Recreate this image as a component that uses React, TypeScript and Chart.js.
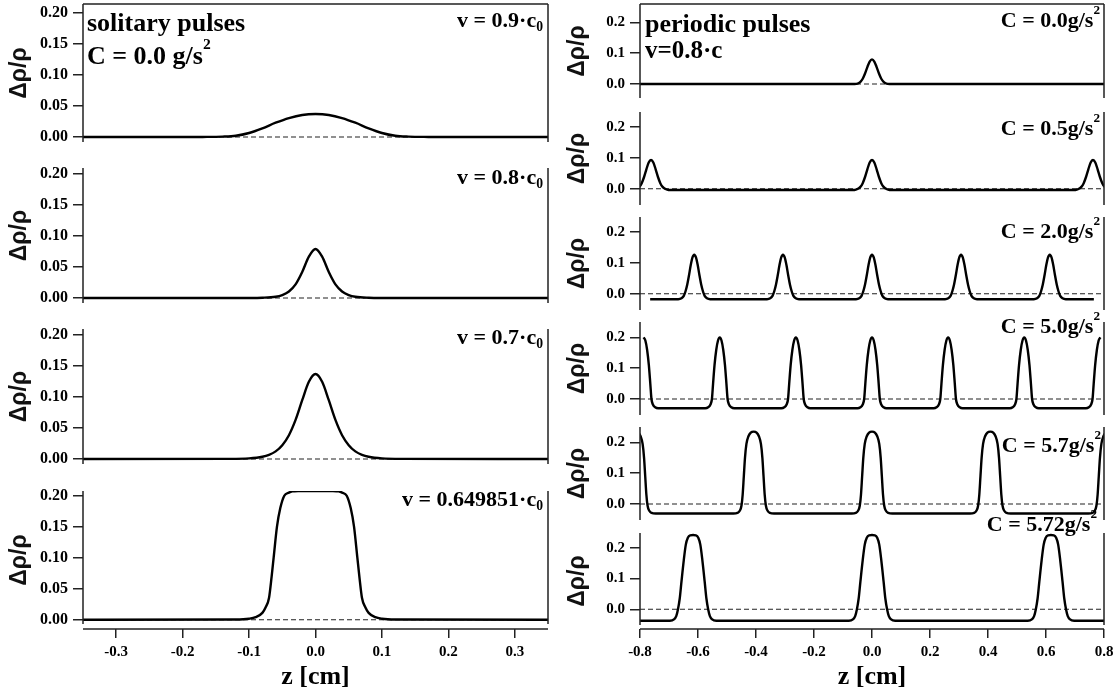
import React, { useEffect, useRef } from 'react';
import { Chart, registerables } from 'chart.js';

Chart.register(...registerables);

// ---------------- data ----------------
// solitary pulses, C = 0
const solZ09 = [-0.35, -0.2, -0.17, -0.14, -0.12, -0.1, -0.08, -0.06, -0.04, -0.02, 0, 0.02, 0.04, 0.06, 0.08, 0.1, 0.12, 0.14, 0.17, 0.2, 0.35];
const solR09 = [0, 0, 0.0001, 0.0006, 0.002, 0.0065, 0.014, 0.023, 0.0305, 0.0355, 0.037, 0.0355, 0.0305, 0.023, 0.014, 0.0065, 0.002, 0.0006, 0.0001, 0, 0];

const solZ08 = [-0.35, -0.1, -0.08, -0.06, -0.05, -0.04, -0.03, -0.02, -0.01, 0, 0.01, 0.02, 0.03, 0.04, 0.05, 0.06, 0.08, 0.1, 0.35];
const solR08 = [0, 0.0001, 0.0004, 0.002, 0.0048, 0.0105, 0.022, 0.042, 0.0667, 0.079, 0.0667, 0.042, 0.022, 0.0105, 0.0048, 0.002, 0.0004, 0.0001, 0];

const solZ07 = [-0.35, -0.13, -0.1, -0.08, -0.07, -0.06, -0.05, -0.04, -0.03, -0.02, -0.01, 0, 0.01, 0.02, 0.03, 0.04, 0.05, 0.06, 0.07, 0.08, 0.1, 0.13, 0.35];
const solR07 = [0, 0.0002, 0.001, 0.0036, 0.0067, 0.0123, 0.0223, 0.0384, 0.063, 0.0948, 0.1245, 0.137, 0.1245, 0.0948, 0.063, 0.0384, 0.0223, 0.0123, 0.0067, 0.0036, 0.001, 0.0002, 0];

const solZ065 = [-0.35, -0.12, -0.1, -0.09, -0.08, -0.075, -0.07, -0.066, -0.063, -0.058, -0.053, -0.047, -0.04, -0.035, -0.02, 0, 0.02, 0.035, 0.04, 0.047, 0.053, 0.058, 0.063, 0.066, 0.07, 0.075, 0.08, 0.09, 0.1, 0.12, 0.35];
const solR065 = [0, 0.0003, 0.0015, 0.004, 0.011, 0.02, 0.035, 0.07, 0.1, 0.15, 0.18, 0.2, 0.205, 0.207, 0.208, 0.208, 0.208, 0.207, 0.205, 0.2, 0.18, 0.15, 0.1, 0.07, 0.035, 0.02, 0.011, 0.004, 0.0015, 0.0003, 0];

// periodic pulses, v = 0.8 c : pulse centres, one-sided pulse profile (offset from centre, value)
const perC00Centers = [0];
const perC00Off = [0, 0.008, 0.016, 0.024, 0.032, 0.04, 0.05, 0.06];
const perC00Val = [0.08, 0.073, 0.055, 0.034, 0.017, 0.007, 0.001, 0];

const perC05Centers = [-0.762, 0, 0.762];
const perC05Off = [0, 0.008, 0.016, 0.024, 0.032, 0.04, 0.05, 0.06];
const perC05Val = [0.093, 0.085, 0.063, 0.038, 0.018, 0.006, -0.001, -0.004];

const perC20Centers = [-0.613, -0.307, 0, 0.307, 0.613];
const perC20Off = [0, 0.006, 0.012, 0.018, 0.024, 0.03, 0.036, 0.044, 0.055];
const perC20Val = [0.127, 0.118, 0.093, 0.06, 0.03, 0.008, -0.007, -0.015, -0.018];

const perC50Centers = [-0.7875, -0.525, -0.2625, 0, 0.2625, 0.525, 0.7875];
const perC50Off = [0, 0.006, 0.012, 0.018, 0.023, 0.027, 0.032, 0.04, 0.05];
const perC50Val = [0.2, 0.19, 0.16, 0.11, 0.05, 0, -0.018, -0.027, -0.03];

const perC57Centers = [-0.816, -0.408, 0, 0.408, 0.816];
const perC57Off = [0, 0.01, 0.018, 0.025, 0.03, 0.034, 0.038, 0.042, 0.048, 0.056, 0.07];
const perC57Val = [0.235, 0.232, 0.22, 0.195, 0.15, 0.09, 0.03, -0.005, -0.022, -0.029, -0.031];

const perC572Centers = [-0.617, 0, 0.617];
const perC572Off = [0, 0.01, 0.018, 0.025, 0.032, 0.04, 0.046, 0.052, 0.058, 0.066, 0.08];
const perC572Val = [0.241, 0.24, 0.232, 0.21, 0.16, 0.09, 0.035, 0, -0.022, -0.033, -0.037];

// curve extents [start, end, value at the ends or null]
const perC00Range = [-0.8, 0.8, 0];
const perC05Range = [-0.9, 0.9, null];
const perC20Range = [-0.765, 0.765, -0.018];
const perC50Range = [-0.7875, 0.7875, null];
const perC57Range = [-0.9, 0.9, null];
const perC572Range = [-0.8, 0.8, -0.037];

// ticks
const leftYTicks = [0, 0.05, 0.1, 0.15, 0.2];
const rightYTicks = [0, 0.1, 0.2];
const leftXTicks = [-0.3, -0.2, -0.1, 0, 0.1, 0.2, 0.3];
const rightXTicks = [-0.8, -0.6, -0.4, -0.2, 0, 0.2, 0.4, 0.6, 0.8];

// ---------------- helpers ----------------
type Pt = { x: number; y: number };
const zip = (xs: number[], ys: number[]): Pt[] => xs.map((x, i) => ({ x, y: ys[i] }));

function pulseTrain(centers: number[], off: number[], val: number[], range: (number | null)[]): Pt[] {
  const lo = range[0] as number;
  const hi = range[1] as number;
  const edge = range[2];
  const pts: Pt[] = [];
  if (edge !== null) pts.push({ x: lo, y: edge as number });
  for (const c of centers) {
    for (let i = off.length - 1; i > 0; i--) pts.push({ x: c - off[i], y: val[i] });
    for (let i = 0; i < off.length; i++) pts.push({ x: c + off[i], y: val[i] });
  }
  if (edge !== null) pts.push({ x: hi, y: edge as number });
  return pts.filter((p) => p.x >= lo - 1e-9 && p.x <= hi + 1e-9);
}

const framePlugin = {
  id: 'frame',
  afterDraw(chart: any, _a: any, opts: any) {
    const { ctx, chartArea: a } = chart;
    const yb = typeof opts.lineEnd === 'number' ? chart.scales.y.getPixelForValue(opts.lineEnd) : a.bottom;
    ctx.save();
    ctx.strokeStyle = '#222';
    ctx.lineWidth = 1.5;
    ctx.beginPath();
    ctx.moveTo(a.left, a.top);
    ctx.lineTo(a.left, yb);
    ctx.moveTo(a.right, a.top);
    ctx.lineTo(a.right, yb);
    if (opts.top) {
      ctx.moveTo(a.left, a.top);
      ctx.lineTo(a.right, a.top);
    }
    if (opts.xAxis) {
      ctx.moveTo(a.left, a.bottom);
      ctx.lineTo(a.right, a.bottom);
    }
    ctx.stroke();
    ctx.restore();
  },
};

const W = 1118;
const H = 693;
const PAD = 12;

const COLS = {
  L: { left: 0, width: 558, yW: 83, padR: 10, ppu: 620, xMin: -0.35, xMax: 0.35, yTicks: leftYTicks, yDec: 2, yFont: 16, xTicks: leftXTicks },
  R: { left: 558, width: 560, yW: 82, padR: 14, ppu: 308, xMin: -0.8, xMax: 0.8, yTicks: rightYTicks, yDec: 1, yFont: 15, xTicks: rightXTicks },
};

type PanelDef = { col: 'L' | 'R'; top: number; zero: number; bottom: number; axisEnd?: number; frameTop?: boolean; xAxis?: boolean; data: Pt[] };

const PANELS: PanelDef[] = [
  { col: 'L', top: 4, zero: 137, bottom: 142, frameTop: true, data: zip(solZ09, solR09) },
  { col: 'L', top: 168, zero: 298, bottom: 303, data: zip(solZ08, solR08) },
  { col: 'L', top: 329, zero: 459, bottom: 464, data: zip(solZ07, solR07) },
  { col: 'L', top: 491, zero: 619.7, bottom: 629, axisEnd: 624, xAxis: true, data: zip(solZ065, solR065) },
  { col: 'R', top: 4, zero: 84, bottom: 98, frameTop: true, data: pulseTrain(perC00Centers, perC00Off, perC00Val, perC00Range) },
  { col: 'R', top: 112, zero: 188.7, bottom: 205, data: pulseTrain(perC05Centers, perC05Off, perC05Val, perC05Range) },
  { col: 'R', top: 217, zero: 293.7, bottom: 310, data: pulseTrain(perC20Centers, perC20Off, perC20Val, perC20Range) },
  { col: 'R', top: 322, zero: 399, bottom: 415, data: pulseTrain(perC50Centers, perC50Off, perC50Val, perC50Range) },
  { col: 'R', top: 427, zero: 504, bottom: 520, data: pulseTrain(perC57Centers, perC57Off, perC57Val, perC57Range) },
  { col: 'R', top: 533, zero: 609.3, bottom: 629, axisEnd: 625, xAxis: true, data: pulseTrain(perC572Centers, perC572Off, perC572Val, perC572Range) },
];

type Note = { text: string; sup?: string; sub?: string; x: number; base: number; size: number; align: 'left' | 'right' };
const NOTES: Note[] = [
  { text: 'solitary pulses', x: 87, base: 32, size: 26, align: 'left' },
  { text: 'C = 0.0 g/s', sup: '2', x: 87, base: 65, size: 26, align: 'left' },
  { text: 'v = 0.9·c', sub: '0', x: 543, base: 27, size: 22, align: 'right' },
  { text: 'v = 0.8·c', sub: '0', x: 543, base: 184, size: 22, align: 'right' },
  { text: 'v = 0.7·c', sub: '0', x: 543, base: 344, size: 22, align: 'right' },
  { text: 'v = 0.649851·c', sub: '0', x: 543, base: 506, size: 22, align: 'right' },
  { text: 'periodic pulses', x: 645, base: 33, size: 26, align: 'left' },
  { text: 'v=0.8·c', x: 645, base: 58, size: 25, align: 'left' },
  { text: 'C = 0.0g/s', sup: '2', x: 1100, base: 27, size: 22, align: 'right' },
  { text: 'C = 0.5g/s', sup: '2', x: 1100, base: 135, size: 22, align: 'right' },
  { text: 'C = 2.0g/s', sup: '2', x: 1100, base: 238, size: 22, align: 'right' },
  { text: 'C = 5.0g/s', sup: '2', x: 1100, base: 333, size: 22, align: 'right' },
  { text: 'C = 5.7g/s', sup: '2', x: 1101, base: 452, size: 22, align: 'right' },
  { text: 'C = 5.72g/s', sup: '2', x: 1097, base: 531, size: 22, align: 'right' },
];

function geom(p: PanelDef) {
  const c = COLS[p.col];
  const isBottom = !!p.xAxis;
  const canvasTop = p.top - PAD;
  const canvasHeight = isBottom ? H - canvasTop : p.bottom - p.top + 2 * PAD;
  return { c, isBottom, canvasTop, canvasHeight };
}

export default function App() {
  const refs = useRef<(HTMLCanvasElement | null)[]>([]);

  useEffect(() => {
    Chart.defaults.font.family = '"Liberation Serif", "Times New Roman", serif';
    const charts: Chart[] = [];
    PANELS.forEach((p, i) => {
      const cv = refs.current[i];
      if (!cv) return;
      const { c, isBottom } = geom(p);
      const yMax = (p.zero - p.top) / c.ppu;
      const yMin = -(p.bottom - p.zero) / c.ppu;
      const lineEnd = p.axisEnd !== undefined ? -(p.axisEnd - p.zero) / c.ppu : undefined;
      const xH = H - p.bottom;
      const cfg: any = {
        type: 'line',
        data: {
          datasets: [
            {
              data: p.data,
              borderColor: '#000',
              borderWidth: 2.4,
              pointRadius: 0,
              cubicInterpolationMode: 'monotone',
              fill: false,
            },
            {
              data: [
                { x: c.xMin, y: 0 },
                { x: c.xMax, y: 0 },
              ],
              borderColor: '#222',
              borderWidth: 1.1,
              borderDash: [5, 3],
              pointRadius: 0,
              fill: false,
            },
          ],
        },
        options: {
          animation: false,
          responsive: false,
          events: [],
          layout: { padding: { top: PAD, bottom: isBottom ? 0 : PAD, left: 0, right: c.padR } },
          plugins: {
            legend: { display: false },
            tooltip: { enabled: false },
            frame: { top: !!p.frameTop, xAxis: isBottom, lineEnd },
          },
          scales: {
            x: {
              type: 'linear',
              position: 'bottom',
              min: c.xMin,
              max: c.xMax,
              display: isBottom,
              afterBuildTicks: (s: any) => {
                s.ticks = c.xTicks.map((v) => ({ value: v }));
              },
              afterFit: (s: any) => {
                s.height = isBottom ? xH : 0;
                s.paddingLeft = 0;
                s.paddingRight = 0;
              },
              ticks: {
                autoSkip: false,
                maxRotation: 0,
                padding: 5,
                color: '#000',
                font: { size: 15, weight: 'bold' },
                callback: (v: any) => Number(v).toFixed(1),
              },
              grid: { display: true, drawOnChartArea: false, drawTicks: true, tickLength: 9, color: '#222', lineWidth: 1.5 },
              border: { display: false },
              title: {
                display: true,
                text: 'z [cm]',
                color: '#000',
                font: { size: 26, weight: 'bold' },
                padding: { top: 0, bottom: 0 },
              },
            },
            y: {
              type: 'linear',
              position: 'left',
              min: yMin,
              max: yMax,
              afterBuildTicks: (s: any) => {
                s.ticks = c.yTicks.map((v) => ({ value: v }));
              },
              afterFit: (s: any) => {
                s.width = c.yW;
                s.paddingTop = 0;
                s.paddingBottom = 0;
              },
              ticks: {
                padding: 5,
                color: '#000',
                font: { size: c.yFont, weight: 'bold' },
                callback: (v: any) => Number(v).toFixed(c.yDec),
              },
              grid: { display: true, drawOnChartArea: false, drawTicks: true, tickLength: 10, color: '#222', lineWidth: 1.5 },
              border: { display: false },
              title: {
                display: true,
                text: 'Δρ/ρ',
                color: '#111',
                font: { family: '"Liberation Sans", Arial, sans-serif', size: 23, weight: 'bold' },
                padding: { top: 6, bottom: 0 },
              },
            },
          },
        },
        plugins: [framePlugin],
      };
      charts.push(new Chart(cv, cfg));
    });
    return () => charts.forEach((ch) => ch.destroy());
  }, []);

  return (
    <div style={{ position: 'fixed', left: 0, top: 0, width: W, height: H, background: '#fff', overflow: 'hidden' }}>
      {PANELS.map((p, i) => {
        const { c, canvasTop, canvasHeight } = geom(p);
        return (
          <canvas
            key={i}
            ref={(el) => {
              refs.current[i] = el;
            }}
            width={c.width}
            height={canvasHeight}
            style={{ position: 'absolute', left: c.left, top: canvasTop }}
          />
        );
      })}
      {NOTES.map((n, i) => (
        <div
          key={'n' + i}
          style={{
            position: 'absolute',
            ...(n.align === 'left' ? { left: n.x } : { right: W - n.x }),
            top: n.base - 0.8375 * n.size,
            fontSize: n.size,
            lineHeight: 1,
            fontFamily: '"Liberation Serif", "Times New Roman", serif',
            fontWeight: 700,
            whiteSpace: 'nowrap',
            color: '#000',
          }}
        >
          {n.text}
          {n.sub && <span style={{ fontSize: '0.62em', position: 'relative', top: '0.3em' }}>{n.sub}</span>}
          {n.sup && <span style={{ fontSize: '0.6em', position: 'relative', top: '-0.95em' }}>{n.sup}</span>}
        </div>
      ))}
    </div>
  );
}
